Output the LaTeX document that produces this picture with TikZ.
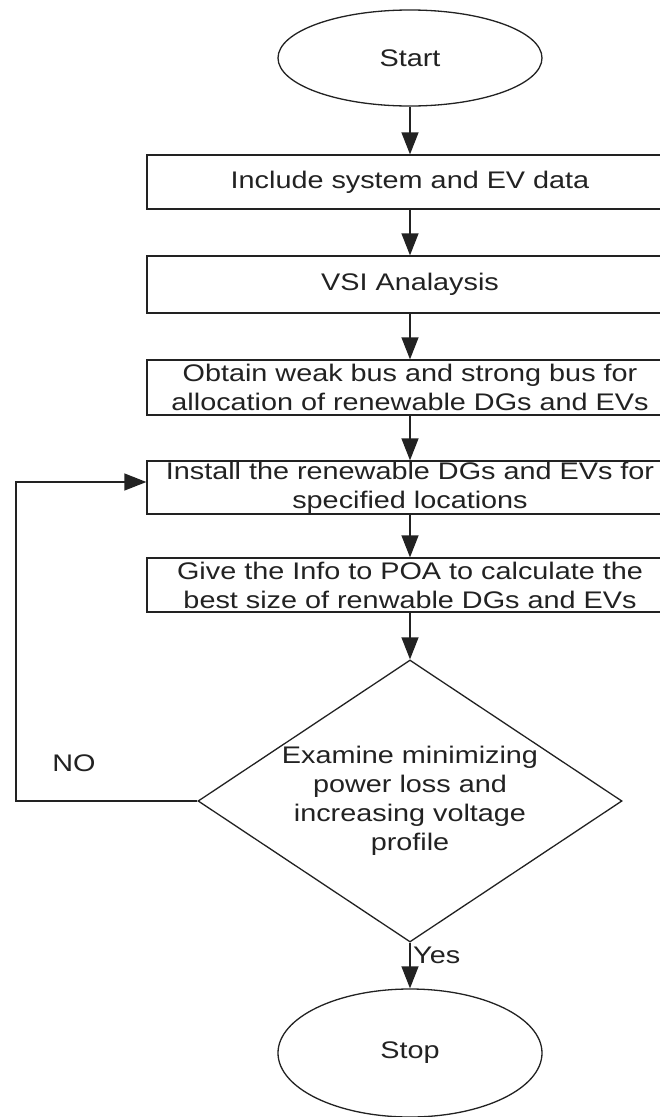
\documentclass[tikz,border=0pt]{standalone}
\usepackage{fontspec}
\setmainfont{Liberation Sans}[FakeStretch=1.2]
\usetikzlibrary{arrows.meta,shapes.geometric}
\definecolor{ink}{HTML}{222222}
\begin{document}
\begin{tikzpicture}[x=1pt,y=-1pt,
  every node/.style={text=ink,font=\fontsize{24}{29}\selectfont},
  line/.style={draw=ink,line width=1.3pt},
  arr/.style={line,-{Triangle[length=22pt,width=17pt]}},
  stepbox/.style={line,rectangle,minimum width=526pt,inner xsep=0pt,inner ysep=0pt,align=center},
  term/.style={line,ellipse,minimum width=264pt,inner sep=0pt},
  decide/.style={line,diamond,shape aspect=1.5,minimum width=424pt,minimum height=282pt,inner sep=0pt,align=center}]
\useasboundingbox (0,0) rectangle (660,1117);
\clip (0,0) rectangle (660,1117);
\fill[white] (0,0) rectangle (660,1117);
\node[term,minimum height=96pt] (start) at (410,58) {Start};
\node[stepbox,minimum height=54pt] (b1) at (410,182) {Include system and EV data};
\node[stepbox,minimum height=57pt] (b2) at (410,284.5) {VSI Analaysis};
\node[stepbox,minimum height=55pt] (b3) at (410,387.5) {Obtain weak bus and strong bus for\\allocation of renewable DGs and EVs};
\node[stepbox,minimum height=53pt] (b4) at (410,487.5) {Install the renewable DGs and EVs for\\specified locations};
\node[stepbox,minimum height=54pt] (b5) at (410,585) {Give the Info to POA to calculate the\\best size of renwable DGs and EVs};
\node[decide] (dec) at (410,801) {Examine minimizing\\power loss and\\increasing voltage\\profile};
\node[term,minimum height=128pt] (stop) at (410,1053) {Stop};
\coordinate (l1) at (16,801);
\coordinate (l2) at (16,482);
\draw[arr] (start) -- (b1);
\draw[arr] (b1) -- (b2);
\draw[arr] (b2) -- (b3);
\draw[arr] (b3) -- (b4);
\draw[arr] (b4) -- (b5);
\draw[arr] (b5) -- (dec);
\draw[arr] (dec) -- (stop);
\draw[arr] (dec.west) -- (l1) -- (l2) -- (b4.west |- l2);
\node (no) at (74,763) {NO};
\node[anchor=west,inner sep=0pt] (yes) at (413,955) {Yes};
\end{tikzpicture}
\end{document}
